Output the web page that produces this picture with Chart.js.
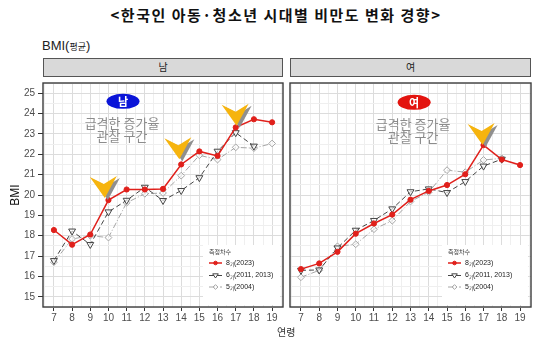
<!DOCTYPE html>
<html>
<head>
<meta charset="utf-8">
<script src="https://cdn.jsdelivr.net/npm/chart.js@4"></script>
<style>
body { margin: 0; background: #fff; width: 559px; height: 339px; position: relative; overflow: hidden;
       font-family: "Liberation Sans", "Noto Sans CJK KR", sans-serif; }
.abs { position: absolute; }
#title { left: 0; width: 552px; top: 4px; text-align: center; font: bold 15px "Noto Sans CJK KR"; letter-spacing: 1.5px; color: #111; }
#ylab { left: 42px; top: 38px; font-size: 13px; color: #222; }
#ylab span { font-family: "Noto Sans CJK KR"; font-size: 9px; }
.strip { top: 58px; height: 19px; line-height: 19px; background: #d9d9d9; border: 1px solid #555; box-sizing: border-box;
         text-align: center; font: 10px "Noto Sans CJK KR"; color: #222; }
#xlab { left: 277px; top: 324px; font: 10px "Noto Sans CJK KR"; color: #333; }
</style>
</head>
<body>
<div id="title" class="abs">&lt;한국인 아동·청소년 시대별 비만도 변화 경향&gt;</div>
<div id="ylab" class="abs">BMI(<span>평균</span>)</div>
<div class="abs strip" style="left:43px;width:240px;">남</div>
<div class="abs strip" style="left:290px;width:241px;">여</div>
<canvas id="male" class="abs" width="288" height="261" style="left:0;top:78px;"></canvas>
<canvas id="female" class="abs" width="274" height="261" style="left:285px;top:78px;"></canvas>
<div id="xlab" class="abs">연령</div>
<script>
// ages (x axis) and BMI ticks
const ages = [7, 8, 9, 10, 11, 12, 13, 14, 15, 16, 17, 18, 19];
const bmiTicks = [15, 16, 17, 18, 19, 20, 21, 22, 23, 24, 25];
const seriesNames = ['8기(2023)', '6기(2011, 2013)', '5기(2004)'];
const legendTitle = '측정차수';

// 남 (male) mean BMI by survey round
const maleGen8 = [18.28, 17.56, 18.06, 19.75, 20.27, 20.27, 20.3, 21.5, 22.14, 21.92, 23.32, 23.72, 23.57];
const maleGen6 = [16.78, 18.23, 17.57, 19.17, 19.74, 20.38, 19.73, 20.22, 20.85, 22.15, 23.06, 22.4, null];
const maleGen5 = [16.7, 17.84, 18.0, 17.91, 19.62, 20.06, 20.1, 20.95, 21.95, 21.74, 22.34, 22.3, 22.53];

// 여 (female)
const femaleGen8 = [16.36, 16.64, 17.21, 18.1, 18.6, 19.04, 19.77, 20.2, 20.49, 21.02, 22.45, 21.74, 21.47];
const femaleGen6 = [16.3, 16.32, 17.4, 18.27, 18.75, 19.32, 20.16, 20.3, 20.12, 20.66, 21.42, 21.76, null];
const femaleGen5 = [15.96, 16.3, 17.48, 17.58, 18.32, 18.74, 19.68, 20.14, 21.22, 21.12, 21.72, 21.8, null];

// callouts: [age, bmi] of the arrow tips, and the label centre
const maleArrows = [[9.8, 19.85], [13.9, 21.75], [17.05, 23.4]];
const femaleArrows = [[16.95, 22.45]];
const calloutText = ['급격한 증가율', '관찰 구간'];
const maleCallout = { x: 10.8, y: 24.6, badge: '남', color: '#0a14d8' };
const femaleCallout = { x: 13.2, y: 24.55, badge: '여', color: '#e3140f' };

// minor grid lines sit halfway between majors
const xGrid = [6.5];
ages.forEach(a => xGrid.push(a, a + 0.5));
const yGrid = [14.5];
bmiTicks.forEach(b => yGrid.push(b, b + 0.5));

const styles = [
  { color: '#e0201b', dash: [], width: 1.5, point: 'circle', radius: 2.6, fill: '#e0201b' },
  { color: '#454545', dash: [5, 3], width: 1, point: 'triangle', radius: 4, fill: 'rgba(255,255,255,0.6)', rot: 180 },
  { color: '#a6a6a6', dash: [6, 2, 1, 2], width: 1, point: 'rectRot', radius: 3.4, fill: 'rgba(255,255,255,0.6)' }
];

function drawMarker(ctx, s, x, y) {
  ctx.save();
  ctx.setLineDash([]);
  ctx.strokeStyle = s.color;
  ctx.fillStyle = s.fill;
  ctx.lineWidth = 1;
  ctx.beginPath();
  if (s.point === 'circle') {
    ctx.arc(x, y, s.radius, 0, Math.PI * 2);
  } else if (s.point === 'triangle') {
    const r = s.radius;
    ctx.moveTo(x - r, y - r * 0.6); ctx.lineTo(x + r, y - r * 0.6); ctx.lineTo(x, y + r * 0.9); ctx.closePath();
  } else {
    const r = s.radius;
    ctx.moveTo(x, y - r); ctx.lineTo(x + r, y); ctx.lineTo(x, y + r); ctx.lineTo(x - r, y); ctx.closePath();
  }
  ctx.fill(); ctx.stroke();
  ctx.restore();
}

// label with a small subscript "기"
function drawLegendLabel(ctx, text, x, y) {
  const i = text.indexOf('기');
  ctx.textBaseline = 'middle';
  ctx.textAlign = 'left';
  ctx.font = '7px "Liberation Sans"';
  const a = text.slice(0, i), b = text.slice(i + 1);
  ctx.fillText(a, x, y);
  x += ctx.measureText(a).width;
  ctx.font = '4.5px "Noto Sans CJK KR"';
  ctx.fillText('기', x, y + 1.5);
  x += ctx.measureText('기').width;
  ctx.font = '7px "Liberation Sans"';
  ctx.fillText(b, x, y);
}

function drawArrow(ctx, x, y) {
  const shape = [[0, 0], [-15, -21], [-1, -14], [12, -22]];
  const poly = (dx, dy) => {
    ctx.beginPath();
    shape.forEach((p, i) => i ? ctx.lineTo(x + p[0] + dx, y + p[1] + dy) : ctx.moveTo(x + p[0] + dx, y + p[1] + dy));
    ctx.closePath();
  };
  ctx.save();
  ctx.fillStyle = '#8f8f8f';
  poly(3, 2); ctx.fill();
  ctx.fillStyle = '#f6b40e';
  poly(0, 0); ctx.fill();
  ctx.restore();
}

const panelDecor = {
  id: 'panelDecor',
  afterDatasetsDraw(chart, args, opts) {
    const { ctx, chartArea: ca, scales: { x, y } } = chart;
    // callout badge + text
    const c = opts.callout;
    const cx = x.getPixelForValue(c.x), cy = y.getPixelForValue(c.y);
    ctx.save();
    ctx.fillStyle = c.color;
    ctx.beginPath(); ctx.ellipse(cx, cy, 16.5, 7.5, 0, 0, Math.PI * 2); ctx.fill();
    ctx.fillStyle = '#fff';
    ctx.font = 'bold 11px "Noto Sans CJK KR"';
    ctx.textAlign = 'center'; ctx.textBaseline = 'middle';
    ctx.fillText(c.badge, cx, cy + 0.5);
    ctx.fillStyle = '#8c8c8c';
    ctx.font = '13px "Noto Sans CJK KR"';
    ctx.fillText(calloutText[0], cx - 1, cy + 21.5);
    ctx.fillText(calloutText[1], cx - 1, cy + 34.5);
    ctx.restore();
    opts.arrows.forEach(a => drawArrow(ctx, x.getPixelForValue(a[0]), y.getPixelForValue(a[1])));

    // legend
    const lx = ca.right - opts.legendOffset, by = ca.bottom;
    ctx.save();
    ctx.fillStyle = '#fff';
    ctx.fillRect(lx, by - 62, opts.legendOffset - 3, 60);
    ctx.fillStyle = '#333';
    ctx.font = '6px "Noto Sans CJK KR"';
    ctx.textAlign = 'left'; ctx.textBaseline = 'middle';
    ctx.fillText(legendTitle, lx + 6, by - 55);
    [by - 44, by - 31.5, by - 20].forEach((ry, i) => {
      const s = styles[i];
      ctx.strokeStyle = s.color; ctx.lineWidth = s.width; ctx.setLineDash(s.dash);
      ctx.beginPath(); ctx.moveTo(lx + 6, ry); ctx.lineTo(lx + 19, ry); ctx.stroke();
      drawMarker(ctx, Object.assign({}, s, { radius: s.radius * 0.7 }), lx + 12.5, ry);
      ctx.fillStyle = '#222';
      drawLegendLabel(ctx, seriesNames[i], lx + 23, ry);
    });
    ctx.restore();
  },
  afterDraw(chart) {
    const { ctx, chartArea: ca } = chart;
    ctx.save();
    ctx.strokeStyle = '#3c3c3c';
    ctx.lineWidth = 1.4;
    ctx.strokeRect(ca.left, ca.top, ca.right - ca.left, ca.bottom - ca.top);
    ctx.restore();
  }
};

function makePanel(id, values, showY, pad, decor) {
  const datasets = values.map((v, i) => {
    const s = styles[i];
    return {
      label: seriesNames[i],
      data: ages.map((a, k) => ({ x: a, y: v[k] })),
      borderColor: s.color,
      borderWidth: s.width,
      borderDash: s.dash,
      pointStyle: s.point,
      pointRotation: s.rot || 0,
      pointRadius: s.radius,
      pointBackgroundColor: s.fill,
      pointBorderColor: s.color,
      pointBorderWidth: 1,
      spanGaps: false,
      tension: 0
    };
  });
  const gridColor = c => Number.isInteger(c.tick.value) ? '#dcdcdc' : '#efefef';
  const tickColor = c => Number.isInteger(c.tick.value) ? '#333' : 'rgba(0,0,0,0)';
  return new Chart(document.getElementById(id), {
    type: 'line',
    data: { datasets },
    options: {
      responsive: false,
      animation: false,
      layout: { padding: pad },
      plugins: { legend: { display: false }, tooltip: { enabled: false }, panelDecor: decor },
      scales: {
        x: {
          type: 'linear', min: 6.4, max: 19.6,
          afterBuildTicks: s => { s.ticks = xGrid.map(v => ({ value: v })); },
          afterFit: s => { s.height = 32; s.paddingLeft = 0; s.paddingRight = 0; },
          border: { display: false },
          grid: { color: gridColor, tickColor: tickColor, tickLength: 4, lineWidth: 1 },
          ticks: {
            autoSkip: false, maxRotation: 0, padding: 1, color: '#4d4d4d',
            font: { family: 'Liberation Sans', size: 10 },
            callback: v => Number.isInteger(v) ? String(v) : ''
          }
        },
        y: {
          min: 14.5, max: 25.5,
          afterBuildTicks: s => { s.ticks = yGrid.map(v => ({ value: v })); },
          afterFit: s => { s.width = showY ? 43 : 5; s.paddingTop = 0; s.paddingBottom = 0; },
          border: { display: false },
          title: showY ? { display: true, text: 'BMI', color: '#111', font: { family: 'Liberation Sans', size: 12 }, padding: { top: 8, bottom: 0 } } : { display: false },
          grid: { color: gridColor, tickColor: tickColor, tickLength: 5, drawTicks: showY, lineWidth: 1 },
          ticks: {
            display: showY, autoSkip: false, padding: 3, color: '#4d4d4d',
            font: { family: 'Liberation Sans', size: 10 },
            callback: v => Number.isInteger(v) ? String(v) : ''
          }
        }
      }
    },
    plugins: [panelDecor]
  });
}

makePanel('male', [maleGen8, maleGen6, maleGen5], true, { left: 0, right: 5, top: 0, bottom: 0 },
  { callout: maleCallout, arrows: maleArrows, legendOffset: 80 });
makePanel('female', [femaleGen8, femaleGen6, femaleGen5], false, { left: 0, right: 28, top: 0, bottom: 0 },
  { callout: femaleCallout, arrows: femaleArrows, legendOffset: 89 });
</script>
</body>
</html>
